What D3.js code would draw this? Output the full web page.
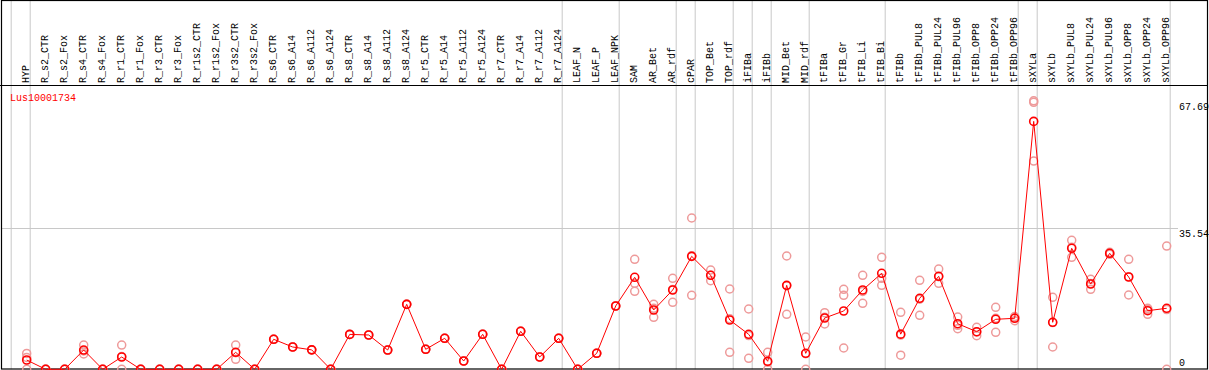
<!DOCTYPE html>
<html>
<head>
<meta charset="utf-8">
<script src="https://cdn.jsdelivr.net/npm/d3@7"></script>
<style>
  body { margin: 0; background: #fff; }
  svg { display: block; }
</style>
</head>
<body>
<div id="chart"></div>
<script>
// sample columns
const samples = ["HYP", "R_s2_CTR", "R_s2_Fox", "R_s4_CTR", "R_s4_Fox", "R_r1_CTR", "R_r1_Fox",
    "R_r3_CTR", "R_r3_Fox", "R_r1s2_CTR", "R_r1s2_Fox", "R_r3s2_CTR", "R_r3s2_Fox",
    "R_s6_CTR", "R_s6_A14", "R_s6_A112", "R_s6_A124", "R_s8_CTR", "R_s8_A14", "R_s8_A112", "R_s8_A124",
    "R_r5_CTR", "R_r5_A14", "R_r5_A112", "R_r5_A124", "R_r7_CTR", "R_r7_A14", "R_r7_A112", "R_r7_A124",
    "LEAF_N", "LEAF_P", "LEAF_NPK", "SAM", "AR_Bet", "AR_rdf", "cPAR", "TOP_Bet", "TOP_rdf",
    "iFIBa", "iFIBb", "MID_Bet", "MID_rdf", "tFIBa", "tFIB_Gr", "tFIB_Li", "tFIB_Bi",
    "tFIBb", "tFIBb_PUL8", "tFIBb_PUL24", "tFIBb_PUL96", "tFIBb_OPP8", "tFIBb_OPP24", "tFIBb_OPP96",
    "sXYLa", "sXYLb", "sXYLb_PUL8", "sXYLb_PUL24", "sXYLb_PUL96", "sXYLb_OPP8", "sXYLb_OPP24", "sXYLb_OPP96"];

// mean expression per sample
const means = [2.34, 0, 0, 4.86, 0, 3.1, 0, 0, 0, 0, 0, 4.28, 0,
    7.56, 5.62, 4.9, 0, 8.8, 8.65, 4.86, 16.38,
    5.04, 7.81, 2.09, 8.82, 0, 9.58, 3.1, 7.81,
    0, 4.03, 15.96, 23.19, 14.95, 19.99, 28.48, 23.7, 12.43,
    8.82, 2.02, 21.17, 4.03, 12.93, 14.7, 19.99, 24.2,
    8.86, 17.9, 23.44, 11.5, 9.48, 12.6, 12.86,
    62.5, 11.85, 30.5, 21.5, 29.24, 23.27, 14.77, 15.38];

// biological replicates
const rep1 = [4.0, 0, 0, 6.1, 0, 6.1, 0, 0, 0, 0, 0, 6.12, 0,
    7.56, 5.62, 4.9, 0, 8.8, 8.65, 4.86, 16.38,
    5.04, 7.81, 2.09, 8.82, 0, 9.58, 3.1, 7.81,
    0, 4.03, 15.96, 27.73, 16.38, 22.94, 38.14, 25.03, 20.24,
    15.2, 4.28, 28.56, 8.14, 14.27, 20.17, 23.7, 28.23,
    14.37, 22.43, 25.28, 13.18, 10.59, 15.63, 12.25,
    67.69, 18.15, 32.52, 22.69, 29.5, 27.73, 15.38, 31.08];
const rep2 = [0, 0, 0, 3.86, 0, 0, 0, 0, 0, 0, 0, 2.52, 0,
    7.56, 5.62, 4.9, 0, 8.8, 8.65, 4.86, 16.38,
    5.04, 7.81, 2.09, 8.82, 0, 9.58, 3.1, 7.81,
    0, 4.03, 15.96, 21.68, 13.1, 16.89, 18.65, 22.33, 4.28,
    2.77, 0, 13.86, 0, 11.42, 18.65, 16.64, 22.94,
    3.57, 13.61, 21.68, 10.23, 8.47, 9.33, 13.3,
    67.3, 5.62, 28.23, 20.17, 29.0, 18.73, 13.86, 0];
const rep3 = [3.0, 0, 0, 4.62, 0, 3.2, 0, 0, 0, 0, 0, 4.2, 0,
    7.56, 5.62, 4.9, 0, 8.8, 8.65, 4.86, 16.38,
    5.04, 7.81, 2.09, 8.82, 0, 9.58, 3.1, 7.81,
    0, 4.03, 15.96, 19.66, 15.37, 20.14, 28.65, 23.74, 12.77,
    8.49, 1.78, 21.09, 3.95, 13.1, 5.37, 19.63, 21.17,
    8.64, 17.66, 23.36, 11.09, 9.38, 12.84, 13.03,
    52.5, 11.78, 30.75, 21.64, 29.2, 23.35, 15.07, 15.06];

// group separators (index of the column just before the line)
const separators = [-1, 0, 28, 31, 34, 35, 37, 38, 39, 41, 45, 52, 53, 60];
const yTicks = [0, 35.54, 67.69];
const geneName = "Lus10001734";

const width = 1209, height = 370;
const colW = 19;
const left0 = 11.7;
const plotTop = 85, plotBottom = 369.3;
const font = "'Liberation Mono', 'DejaVu Sans Mono', monospace";

const svg = d3.select("#chart").append("svg")
    .attr("width", width)
    .attr("height", height);

const x = d3.scaleBand()
    .domain(samples)
    .range([left0, left0 + samples.length * colW])
    .paddingInner(0)
    .paddingOuter(0);

const y = d3.scaleLinear()
    .domain([0, 67.69])
    .range([plotBottom, 100.8]);

const px = d => x(d) + 15;

// gray separators
separators.forEach(k => {
    const xx = left0 + colW * (k + 1) - 0.5;
    svg.append("line")
        .attr("x1", xx).attr("x2", xx)
        .attr("y1", 0).attr("y2", plotBottom)
        .attr("stroke", "#c8c8c8")
        .attr("stroke-width", 1);
});

// horizontal grid at middle tick
svg.append("line")
    .attr("x1", 1).attr("x2", 1178)
    .attr("y1", Math.round(y(35.54)) + 0.5).attr("y2", Math.round(y(35.54)) + 0.5)
    .attr("stroke", "#c8c8c8")
    .attr("stroke-width", 1);

// frame
svg.append("rect")
    .attr("x", 1.5).attr("y", 0.5)
    .attr("width", 1206).attr("height", 368.5)
    .attr("fill", "none")
    .attr("stroke", "#000")
    .attr("stroke-width", 1.2);

svg.append("line")
    .attr("x1", 0).attr("x2", 1208)
    .attr("y1", plotTop + 0.5).attr("y2", plotTop + 0.5)
    .attr("stroke", "#000")
    .attr("stroke-width", 1.2);

// column labels (vertical)
svg.append("g").selectAll("text")
    .data(samples)
    .enter()
    .append("text")
    .attr("transform", d => `translate(${x(d) + 17.5},83) rotate(-90)`)
    .attr("text-anchor", "start")
    .attr("font-family", font)
    .attr("font-size", "10px")
    .attr("fill", "#000")
    .text(d => d);

// y tick labels on the right
svg.append("g").selectAll("text")
    .data(yTicks)
    .enter()
    .append("text")
    .attr("x", 1179)
    .attr("y", d => Math.min(y(d) + 9, 366))
    .attr("font-family", font)
    .attr("font-size", "10px")
    .attr("fill", "#000")
    .text(d => d === 0 ? "0" : d.toFixed(2));

// gene name
svg.append("text")
    .attr("x", 10)
    .attr("y", 101)
    .attr("font-family", font)
    .attr("font-size", "10px")
    .attr("fill", "#ff0000")
    .text(geneName);

// replicate circles
const reps = [];
samples.forEach((s, i) => {
    [rep1[i], rep2[i], rep3[i]].forEach(v => reps.push({ s, v }));
});

svg.append("g").selectAll("circle")
    .data(reps)
    .enter()
    .append("circle")
    .attr("cx", d => px(d.s))
    .attr("cy", d => y(d.v))
    .attr("r", 4)
    .attr("fill", "none")
    .attr("stroke", "#ee9a9a")
    .attr("stroke-width", 1.5);

// mean line
const line = d3.line()
    .x((d, i) => px(samples[i]))
    .y(d => y(d));

svg.append("path")
    .datum(means)
    .attr("d", line)
    .attr("fill", "none")
    .attr("stroke", "#ff0000")
    .attr("stroke-width", 1);

svg.append("g").selectAll("circle")
    .data(means)
    .enter()
    .append("circle")
    .attr("cx", (d, i) => px(samples[i]))
    .attr("cy", d => y(d))
    .attr("r", 4)
    .attr("fill", "none")
    .attr("stroke", "#ff0000")
    .attr("stroke-width", 1.6);
</script>
</body>
</html>
